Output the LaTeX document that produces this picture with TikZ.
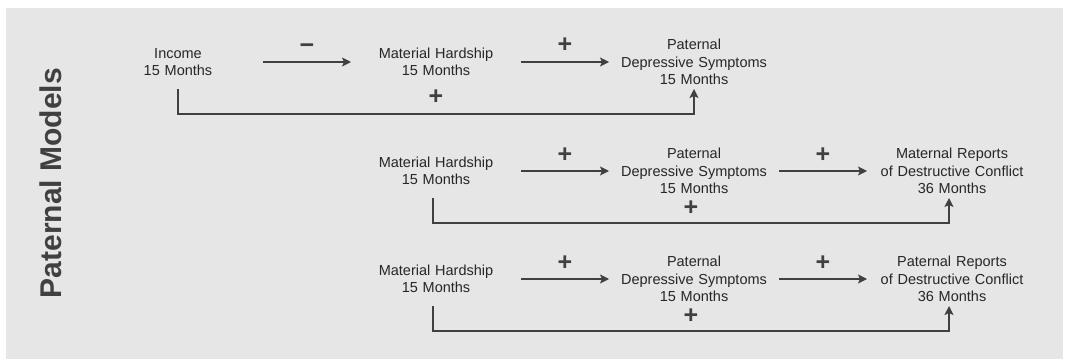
\documentclass[tikz,border=0pt]{standalone}
\usepackage{fontspec}
\setmainfont{Liberation Sans}
\usetikzlibrary{positioning,arrows.meta}
\definecolor{panelgray}{HTML}{E6E6E6}
\definecolor{textgray}{HTML}{262626}
\definecolor{linegray}{HTML}{404040}

\begin{document}
\begin{tikzpicture}[
	x=1pt, y=-1pt,
	node distance=0pt and 88pt,
	varnode/.style = {
		align=center, text width=170pt, minimum height=54pt,
		inner sep=0pt, outer sep=0pt, text=textgray,
		font=\fontsize{14.5}{17.5}\selectfont},
	signlabel/.style = {
		text=linegray, inner sep=0pt,
		font=\fontsize{25}{25}\selectfont\bfseries},
	arrow/.style = {line width=1.5pt, draw=linegray,
		-{Stealth[length=9pt,width=9pt,inset=2pt]}}
]
\useasboundingbox (0,0) rectangle (1067,359);
\fill[panelgray] (6,8) rectangle (1063,359);

\node (title) [rotate=90, text=linegray, font=\fontsize{30}{30}\selectfont\bfseries]
	at (51,183) {Paternal Models};

% income model
\node (inc)  [varnode] at (178,62) {Income\\15 Months};
\node (mh1)  [varnode, right=of inc]  {Material Hardship\\15 Months};
\node (pds1) [varnode, right=of mh1]  {Paternal\\Depressive Symptoms\\15 Months};

% maternal reports model
\node (mh2)  [varnode] at (436,171) {Material Hardship\\15 Months};
\node (pds2) [varnode, right=of mh2]  {Paternal\\Depressive Symptoms\\15 Months};
\node (mrc)  [varnode, right=of pds2] {Maternal Reports\\of Destructive Conflict\\36 Months};

% paternal reports model
\node (mh3)  [varnode] at (436,279) {Material Hardship\\15 Months};
\node (pds3) [varnode, right=of mh3]  {Paternal\\Depressive Symptoms\\15 Months};
\node (prc)  [varnode, right=of pds3] {Paternal Reports\\of Destructive Conflict\\36 Months};

\draw[arrow] (inc) -- node[signlabel, yshift=13pt] {−} (mh1);
\draw[arrow] (mh1) -- node[signlabel, yshift=17pt] {+} (pds1);
\draw[arrow] (inc.south) -- ++(0,25) -| node[signlabel, pos=0.25, yshift=17pt] {+} (pds1.south);

\draw[arrow] (mh2) -- node[signlabel, yshift=16pt] {+} (pds2);
\draw[arrow] (pds2) -- node[signlabel, yshift=16pt] {+} (mrc);
\draw[arrow] ([xshift=-3pt]mh2.south) -- ++(0,25) -| node[signlabel, pos=0.25, yshift=15pt] {+} ([xshift=-3pt]mrc.south);

\draw[arrow] (mh3) -- node[signlabel, yshift=16pt] {+} (pds3);
\draw[arrow] (pds3) -- node[signlabel, yshift=16pt] {+} (prc);
\draw[arrow] ([xshift=-3pt]mh3.south) -- ++(0,25) -| node[signlabel, pos=0.25, yshift=15pt] {+} ([xshift=-3pt]prc.south);
\end{tikzpicture}
\end{document}
